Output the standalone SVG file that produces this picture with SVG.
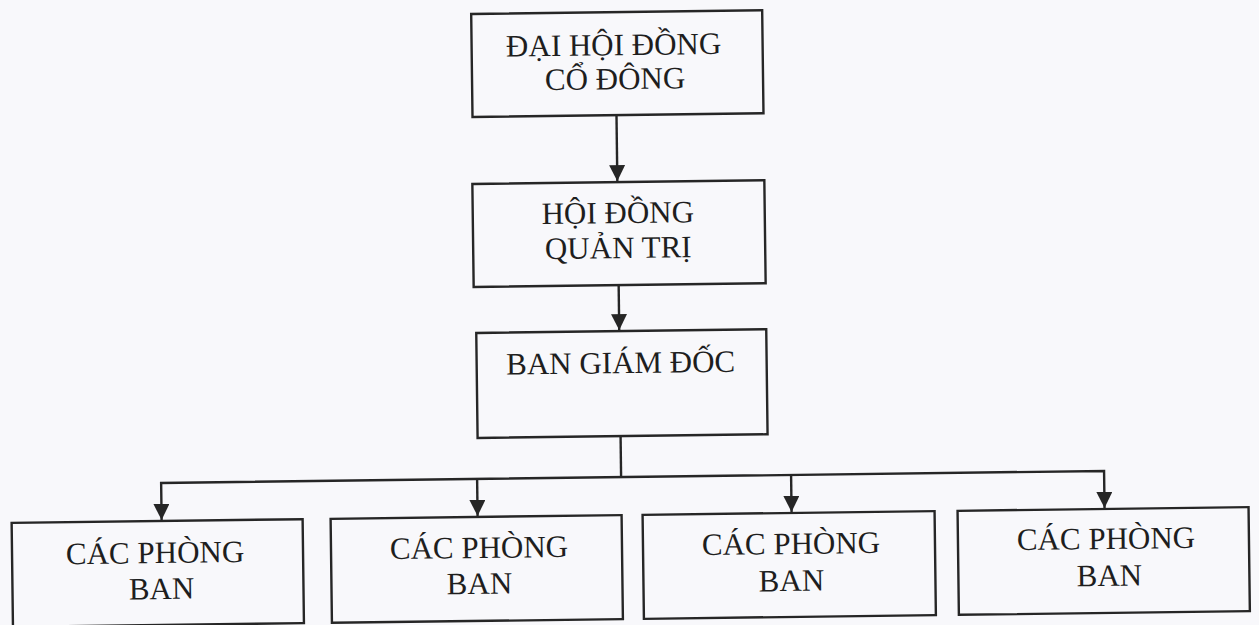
<svg xmlns="http://www.w3.org/2000/svg" width="1259" height="625" viewBox="0 0 1259 625">
  <defs>
    <marker id="arr" viewBox="0 0 16 16" refX="16" refY="8" markerWidth="16" markerHeight="16" markerUnits="userSpaceOnUse" orient="auto-start-reverse">
      <path d="M0,0 L16,8 L0,16 Z" fill="#262626"/>
    </marker>
    <style>
      .box { fill: none; stroke: #262626; stroke-width: 2.4; }
      .lbl { font-size: 31px; fill: #1e1e1e; text-anchor: middle; }
      .con { fill: none; stroke: #262626; stroke-width: 2.4; }
    </style>
  </defs>
  <rect x="0" y="0" width="1259" height="625" fill="#f8f8fb"/>
  <g transform="rotate(-0.73 630 312)" font-family="'Liberation Serif', 'DejaVu Serif', serif">
    <g id="connectors">
      <line class="con" x1="619" y1="115" x2="619" y2="181" marker-end="url(#arr)"/>
      <line class="con" x1="619" y1="285" x2="619" y2="330" marker-end="url(#arr)"/>
      <polyline class="con" points="619,436 619,477"/>
      <polyline class="con" points="159,514 159,477 1102,477 1102,514" marker-start="url(#arr)" marker-end="url(#arr)"/>
      <line class="con" x1="475" y1="477" x2="475" y2="514" marker-end="url(#arr)"/>
      <line class="con" x1="789" y1="477" x2="789" y2="514" marker-end="url(#arr)"/>
    </g>
    <g id="dai-hoi-dong-co-dong">
      <rect class="box" x="475" y="12" width="291" height="103"/>
      <text class="lbl" x="617" y="55">ĐẠI HỘI ĐỒNG</text>
      <text class="lbl" x="618" y="89">CỔ ĐÔNG</text>
    </g>
    <g id="hoi-dong-quan-tri">
      <rect class="box" x="474" y="182" width="292" height="103"/>
      <text class="lbl" x="619" y="223">HỘI ĐỒNG</text>
      <text class="lbl" x="619" y="258">QUẢN TRỊ</text>
    </g>
    <g id="ban-giam-doc">
      <rect class="box" x="476" y="331" width="290" height="105"/>
      <text class="lbl" x="620" y="373">BAN GIÁM ĐỐC</text>
    </g>
    <g id="phong-ban-1">
      <rect class="box" x="9" y="515" width="291" height="104"/>
      <text class="lbl" x="152" y="557">CÁC PHÒNG</text>
      <text class="lbl" x="158" y="593">BAN</text>
    </g>
    <g id="phong-ban-2">
      <rect class="box" x="328" y="515" width="291" height="104"/>
      <text class="lbl" x="476" y="556">CÁC PHÒNG</text>
      <text class="lbl" x="476" y="592">BAN</text>
    </g>
    <g id="phong-ban-3">
      <rect class="box" x="640" y="515" width="292" height="104"/>
      <text class="lbl" x="788" y="556">CÁC PHÒNG</text>
      <text class="lbl" x="788" y="593">BAN</text>
    </g>
    <g id="phong-ban-4">
      <rect class="box" x="955" y="515" width="291" height="104"/>
      <text class="lbl" x="1103" y="555">CÁC PHÒNG</text>
      <text class="lbl" x="1106" y="592">BAN</text>
    </g>
  </g>
</svg>
